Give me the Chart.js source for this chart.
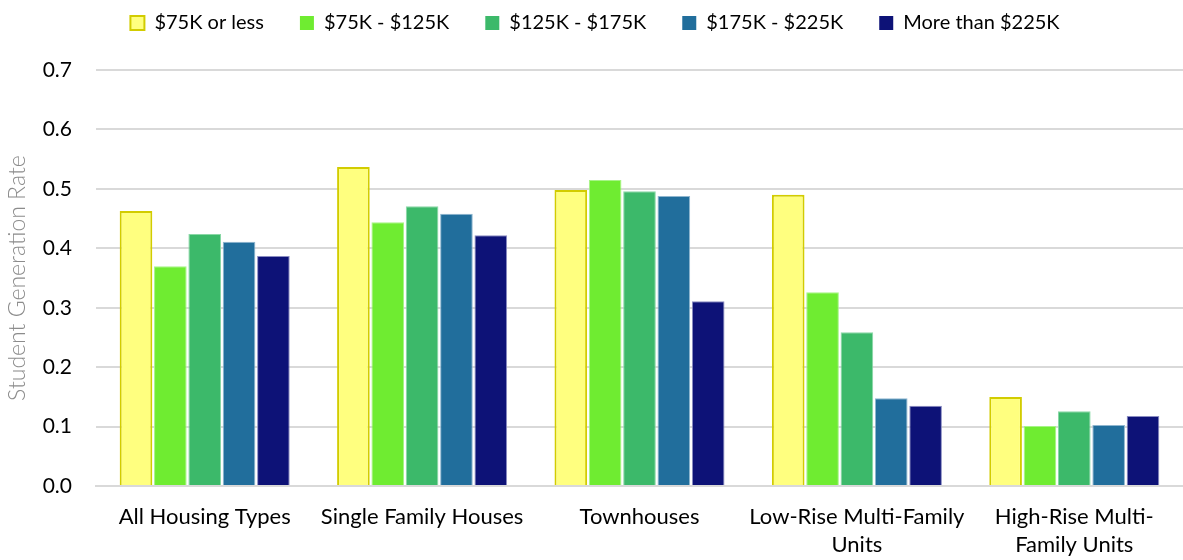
<!DOCTYPE html>
<html>
<head>
<meta charset="utf-8">
<script src="https://cdn.jsdelivr.net/npm/chart.js@4.4.1/dist/chart.umd.min.js"></script>
<style>
  html, body { margin: 0; padding: 0; background: #fff; }
  #wrap { width: 1183px; height: 560px; }
</style>
</head>
<body>
<div id="wrap"><canvas id="chart1" width="1183" height="560"></canvas></div>
<script>
// housing types along the x axis (multi-line where the label wraps)
var housingTypes = [
  'All Housing Types',
  'Single Family Houses',
  'Townhouses',
  ['Low-Rise Multi-Family', 'Units'],
  ['High-Rise Multi-', 'Family Units']
];

var incomeBands = ['$75K or less', '$75K - $125K', '$125K - $175K', '$175K - $225K', 'More than $225K'];

// student generation rate per income band, one value per housing type
var rate75orLess   = [0.463, 0.537, 0.498, 0.490, 0.150];
var rate75to125    = [0.370, 0.444, 0.515, 0.326, 0.101];
var rate125to175   = [0.424, 0.471, 0.496, 0.259, 0.126];
var rate175to225   = [0.411, 0.458, 0.488, 0.148, 0.103];
var rateOver225    = [0.387, 0.422, 0.311, 0.135, 0.118];

var yTicks = [0, 0.1, 0.2, 0.3, 0.4, 0.5, 0.6, 0.7];

var fills   = ['#ffff7f', '#6fec31', '#3cb96a', '#216e9c', '#0d1277'];
var borders = ['#d2cc00', '#a6f486', '#8ad8a6', '#8fb6cf', '#8a8cc2'];
var widths  = [2, 1, 1, 1, 1];

var allRates = [rate75orLess, rate75to125, rate125to175, rate175to225, rateOver225];

var datasets = [];
for (let i = 0; i < incomeBands.length; i++) {
  datasets.push({
    label: incomeBands[i],
    data: allRates[i],
    backgroundColor: fills[i],
    borderColor: borders[i],
    borderWidth: widths[i],
    categoryPercentage: 0.79,
    barPercentage: 0.95
  });
}

// extra room under the legend
var legendGap = {
  id: 'legendGap',
  beforeInit(chart) {
    var fit = chart.legend.fit;
    chart.legend.fit = function() {
      fit.bind(chart.legend)();
      this.height += 27;
    };
  }
};

Chart.defaults.font.family = 'Lato, "Open Sans", sans-serif';
Chart.defaults.font.size = 20;
Chart.defaults.color = '#000';

new Chart(document.querySelector('#chart1'), {
  type: 'bar',
  data: { labels: housingTypes, datasets: datasets },
  plugins: [legendGap],
  options: {
    responsive: false,
    animation: false,
    layout: { padding: { left: 4, right: -3, top: -23, bottom: -16 } },
    plugins: {
      tooltip: { enabled: false },
      legend: {
        position: 'top',
        labels: {
          boxWidth: 14,
          boxHeight: 14,
          padding: 36,
          color: '#000',
          font: { size: 20 },
          generateLabels: function(chart) {
            return chart.data.datasets.map(function(ds, i) {
              return {
                text: ds.label,
                fillStyle: ds.backgroundColor,
                strokeStyle: i === 0 ? ds.borderColor : ds.backgroundColor,
                lineWidth: i === 0 ? 2 : 0,
                datasetIndex: i
              };
            });
          }
        }
      }
    },
    scales: {
      x: {
        grid: { display: false, drawTicks: false },
        border: { color: '#d9d9d9', width: 2 },
        ticks: { padding: 17, maxRotation: 0, autoSkip: false, color: '#000', font: { size: 22, lineHeight: 1.27 } }
      },
      y: {
        min: 0,
        max: 0.7,
        afterBuildTicks: function(axis) {
          axis.ticks = yTicks.map(function(v) { return { value: v }; });
        },
        afterFit: function(axis) {
          axis.width = 92;
        },
        grid: { color: '#d9d9d9', lineWidth: 2, drawTicks: false },
        border: { display: false },
        ticks: {
          padding: 24,
          color: '#000',
          font: { size: 21 },
          callback: function(v) { return Number(v).toFixed(1); }
        },
        title: {
          display: true,
          text: 'Student Generation Rate',
          color: '#8c8c8c',
          font: { size: 23, weight: 300 },
          padding: { top: 0, bottom: 0 }
        }
      }
    }
  }
});
</script>
</body>
</html>
